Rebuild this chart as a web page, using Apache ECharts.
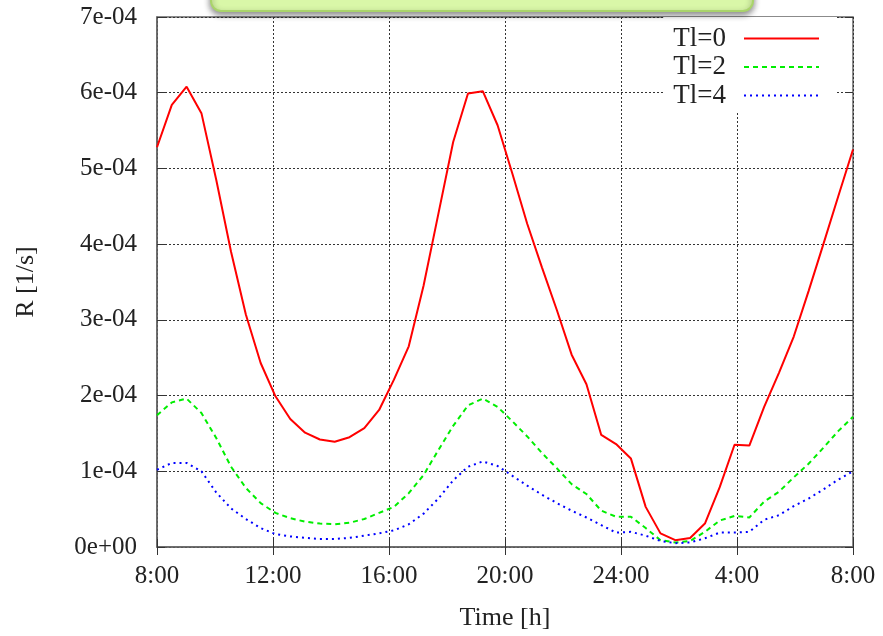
<!DOCTYPE html>
<html>
<head>
<meta charset="utf-8">
<script src="https://cdn.jsdelivr.net/npm/echarts@6/dist/echarts.min.js"></script>
<style>
html,body{margin:0;padding:0;background:#fff;}
#chart{width:883px;height:636px;}
</style>
</head>
<body>
<div id="chart"></div>
<script>
// x tick labels (hours, wrapping past midnight)
const xTickLabels = ['8:00','12:00','16:00','20:00','24:00','4:00','8:00'];
const seriesNames = ['Tl=0','Tl=2','Tl=4'];

// R [1/s], 48 samples spanning 8:00 -> 8:00 next day
const tl0 = [5.28e-4,5.84e-4,6.08e-4,5.73e-4,4.85e-4,3.90e-4,3.07e-4,2.43e-4,1.99e-4,1.69e-4,
  1.51e-4,1.42e-4,1.39e-4,1.45e-4,1.57e-4,1.81e-4,2.21e-4,2.65e-4,3.45e-4,4.40e-4,
  5.35e-4,5.99e-4,6.02e-4,5.57e-4,4.93e-4,4.27e-4,3.69e-4,3.13e-4,2.54e-4,2.15e-4,
  1.48e-4,1.36e-4,1.17e-4,0.53e-4,0.18e-4,0.09e-4,0.12e-4,0.31e-4,0.79e-4,1.35e-4,
  1.34e-4,1.85e-4,2.30e-4,2.78e-4,3.38e-4,4.00e-4,4.63e-4,5.25e-4];
const tl2 = [1.74e-4,1.91e-4,1.96e-4,1.77e-4,1.44e-4,1.06e-4,0.78e-4,0.58e-4,0.45e-4,0.38e-4,
  0.335e-4,0.31e-4,0.30e-4,0.32e-4,0.37e-4,0.45e-4,0.53e-4,0.71e-4,0.95e-4,1.28e-4,
  1.60e-4,1.87e-4,1.96e-4,1.85e-4,1.66e-4,1.46e-4,1.24e-4,1.04e-4,0.83e-4,0.70e-4,
  0.48e-4,0.40e-4,0.40e-4,0.25e-4,0.09e-4,0.06e-4,0.08e-4,0.20e-4,0.35e-4,0.41e-4,
  0.39e-4,0.60e-4,0.73e-4,0.92e-4,1.10e-4,1.31e-4,1.53e-4,1.72e-4];
const tl4 = [1.02e-4,1.11e-4,1.11e-4,1.00e-4,0.72e-4,0.51e-4,0.37e-4,0.25e-4,0.17e-4,0.14e-4,
  0.12e-4,0.106e-4,0.106e-4,0.12e-4,0.15e-4,0.18e-4,0.22e-4,0.30e-4,0.44e-4,0.64e-4,
  0.88e-4,1.06e-4,1.13e-4,1.07e-4,0.94e-4,0.81e-4,0.69e-4,0.58e-4,0.48e-4,0.39e-4,
  0.29e-4,0.19e-4,0.20e-4,0.15e-4,0.08e-4,0.05e-4,0.06e-4,0.115e-4,0.19e-4,0.19e-4,
  0.20e-4,0.36e-4,0.42e-4,0.54e-4,0.64e-4,0.76e-4,0.89e-4,1.00e-4];

// sample times in hours (8 .. 32), evenly spaced
const times = tl0.map((_, i) => 8 + 24 * i / (tl0.length - 1));

function expFmt(v) {
  if (Math.abs(v) < 1e-12) return '0e+00';
  const e = Math.floor(Math.log10(Math.abs(v)) + 1e-9);
  const m = Math.round(v / Math.pow(10, e));
  return m + 'e' + (e < 0 ? '-' : '+') + String(Math.abs(e)).padStart(2, '0');
}
function xFmt(v) {
  const idx = Math.round((v - 8) / 4);
  return xTickLabels[idx] !== undefined ? xTickLabels[idx] : '';
}

const font = 'Liberation Serif';
const txt = '#222';
const gridLine = {show: true, lineStyle: {color: '#333', type: [2, 2], width: 1}};

const chart = echarts.init(document.getElementById('chart'), null, {renderer: 'canvas'});
const mk = (name, data, color, type) => ({
  name, type: 'line', symbol: 'none', smooth: false,
  data: times.map((t, i) => [t, data[i]]),
  lineStyle: {color, width: 2, type},
  itemStyle: {color},
  z: 3
});
chart.setOption({
  animation: false,
  backgroundColor: '#fff',
  grid: {left: 157, right: 30, top: 17, bottom: 89, show: true, borderColor: '#666', borderWidth: 1.5, backgroundColor: 'transparent'},
  graphic: [{
    type: 'rect', left: 210, top: -20,
    shape: {width: 542, height: 30, r: 10},
    style: {fill: '#d9f7a8', stroke: '#a9d46a', lineWidth: 2, shadowBlur: 6, shadowOffsetY: 3, shadowColor: 'rgba(0,0,0,0.45)'},
    z: 10
  }],
  legend: {
    data: seriesNames, orient: 'vertical', right: 46, top: 17, align: 'right',
    itemWidth: 75, itemHeight: 14, itemGap: 1.5,
    padding: [8, 17, 2, 10],
    backgroundColor: '#fff',
    itemStyle: {opacity: 0},
    textStyle: {fontFamily: font, fontSize: 27, color: txt, lineHeight: 27, padding: [0, 13, 0, 0]},
    z: 5
  },
  xAxis: [{
    type: 'value', min: 8, max: 32, interval: 4,
    name: 'Time [h]', nameLocation: 'middle', nameGap: 58,
    nameTextStyle: {fontFamily: font, fontSize: 26, color: txt},
    axisLine: {show: true, lineStyle: {color: '#666', width: 1.5}},
    axisTick: {show: true, inside: true, length: 8, lineStyle: {color: '#333'}},
    axisLabel: {formatter: xFmt, fontFamily: font, fontSize: 25, color: txt, margin: 17},
    splitLine: gridLine
  }, {
    type: 'value', min: 8, max: 32, interval: 4, position: 'top',
    axisLine: {show: false},
    axisTick: {show: true, inside: true, length: 8, lineStyle: {color: '#333'}},
    axisLabel: {show: false}, splitLine: {show: false}
  }],
  yAxis: [{
    type: 'value', min: 0, max: 7e-4, interval: 1e-4,
    name: 'R [1/s]', nameLocation: 'middle', nameGap: 118, nameRotate: 90,
    nameTextStyle: {fontFamily: font, fontSize: 26, color: txt},
    axisLine: {show: true, lineStyle: {color: '#666', width: 1.5}},
    axisTick: {show: true, inside: true, length: 8, lineStyle: {color: '#333'}},
    axisLabel: {formatter: expFmt, fontFamily: font, fontSize: 25, color: txt, margin: 20},
    splitLine: gridLine
  }, {
    type: 'value', min: 0, max: 7e-4, interval: 1e-4, position: 'right',
    axisLine: {show: false},
    axisTick: {show: true, inside: true, length: 8, lineStyle: {color: '#333'}},
    axisLabel: {show: false}, splitLine: {show: false}
  }],
  series: [
    mk(seriesNames[0], tl0, '#ff0000', 'solid'),
    mk(seriesNames[1], tl2, '#00ee00', [5, 4]),
    mk(seriesNames[2], tl4, '#0000ff', [2, 4])
  ]
});
</script>
</body>
</html>
